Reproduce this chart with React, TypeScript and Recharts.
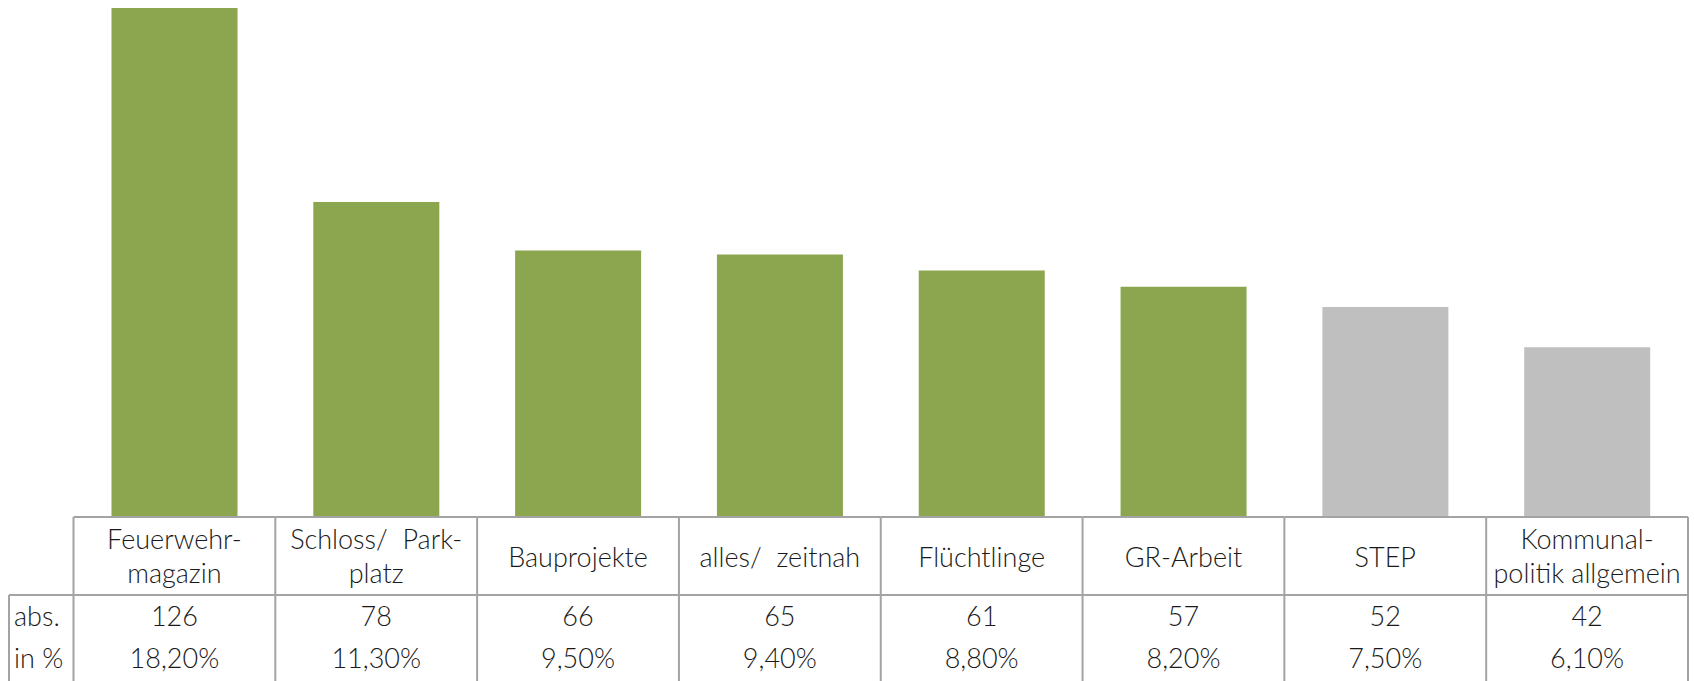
import React from 'react';
import { BarChart, Bar, Cell, XAxis, YAxis } from 'recharts';

const categories = [
    ['Feuerwehr-', 'magazin'],
    ['Schloss/  Park-', 'platz'],
    ['Bauprojekte'],
    ['alles/  zeitnah'],
    ['Flüchtlinge'],
    ['GR-Arbeit'],
    ['STEP'],
    ['Kommunal-', 'politik allgemein'],
];
const absValues = [126, 78, 66, 65, 61, 57, 52, 42];
const pctLabels = ['18,20%', '11,30%', '9,50%', '9,40%', '8,80%', '8,20%', '7,50%', '6,10%'];
const rowLabels = ['abs.', 'in %'];

const data = categories.map((lines, i) => ({
    name: lines.join(' '),
    abs: absValues[i],
    pct: pctLabels[i],
}));

const GREEN = '#8ba64f';
const GRAY = '#bfbfbf';
const barColors = [GREEN, GREEN, GREEN, GREEN, GREEN, GREEN, GRAY, GRAY];

const W = 1695;
const H = 681;
const LEFT = 73.5;
const RIGHT = 7;
const AXIS_H = 164;
const TOP = H - AXIS_H; // table top
const MID = 595;
const LABEL_LEFT = 9;
const LINE = '#a3a3a3';
const FONT = 'Lato, "Noto Sans", sans-serif';
const TEXT = '#1a1a1a';

const TableTick = (props: any) => {
    const { x, payload, width } = props;
    const i = data.findIndex((d) => d.name === payload.value);
    if (i < 0) return null;
    const band = (width ?? W - LEFT - RIGHT) / data.length;
    const l = x - band / 2;
    const r = x + band / 2;
    const lines = categories[i];
    const textProps = {
        fontFamily: FONT,
        fontSize: 27,
        fontWeight: 300,
        fill: TEXT,
        textAnchor: 'middle' as const,
        dominantBaseline: 'central' as const,
        style: { whiteSpace: 'pre' as const },
    };
    return (
        <g>
            <line x1={l} x2={r} y1={TOP} y2={TOP} stroke={LINE} strokeWidth={2} />
            <line x1={l} x2={r} y1={MID} y2={MID} stroke={LINE} strokeWidth={2} />
            <line x1={l} x2={l} y1={TOP} y2={H} stroke={LINE} strokeWidth={2} />
            {i === data.length - 1 && <line x1={r} x2={r} y1={TOP} y2={H} stroke={LINE} strokeWidth={2} />}
            {i === 0 && (
                <g>
                    <line x1={LABEL_LEFT} x2={l} y1={MID} y2={MID} stroke={LINE} strokeWidth={2} />
                    <line x1={LABEL_LEFT} x2={LABEL_LEFT} y1={MID} y2={H} stroke={LINE} strokeWidth={2} />
                    <text {...textProps} x={LABEL_LEFT + 5} y={615} textAnchor="start">{rowLabels[0]}</text>
                    <text {...textProps} x={LABEL_LEFT + 5} y={657} textAnchor="start">{rowLabels[1]}</text>
                </g>
            )}
            {lines.length === 1 ? (
                <text {...textProps} x={x} y={556}>{lines[0]}</text>
            ) : (
                <>
                    <text {...textProps} x={x} y={538}>{lines[0]}</text>
                    <text {...textProps} x={x} y={572}>{lines[1]}</text>
                </>
            )}
            <text {...textProps} x={x} y={615}>{data[i].abs}</text>
            <text {...textProps} x={x} y={657}>{data[i].pct}</text>
        </g>
    );
};

export default function App() {
    return (
        <div style={{ position: 'absolute', left: 0, top: 0, background: '#fff' }}>
            <BarChart width={W} height={H} data={data} margin={{ top: 0, right: RIGHT, left: LEFT, bottom: 0 }}>
                <XAxis dataKey="name" axisLine={false} tickLine={false} interval={0} height={AXIS_H} tick={<TableTick />} />
                <YAxis hide domain={[0, 128]} />
                <Bar dataKey="abs" barSize={126} isAnimationActive={false}>
                    {data.map((d, i) => (
                        <Cell key={d.name} fill={barColors[i]} />
                    ))}
                </Bar>
            </BarChart>
        </div>
    );
}
